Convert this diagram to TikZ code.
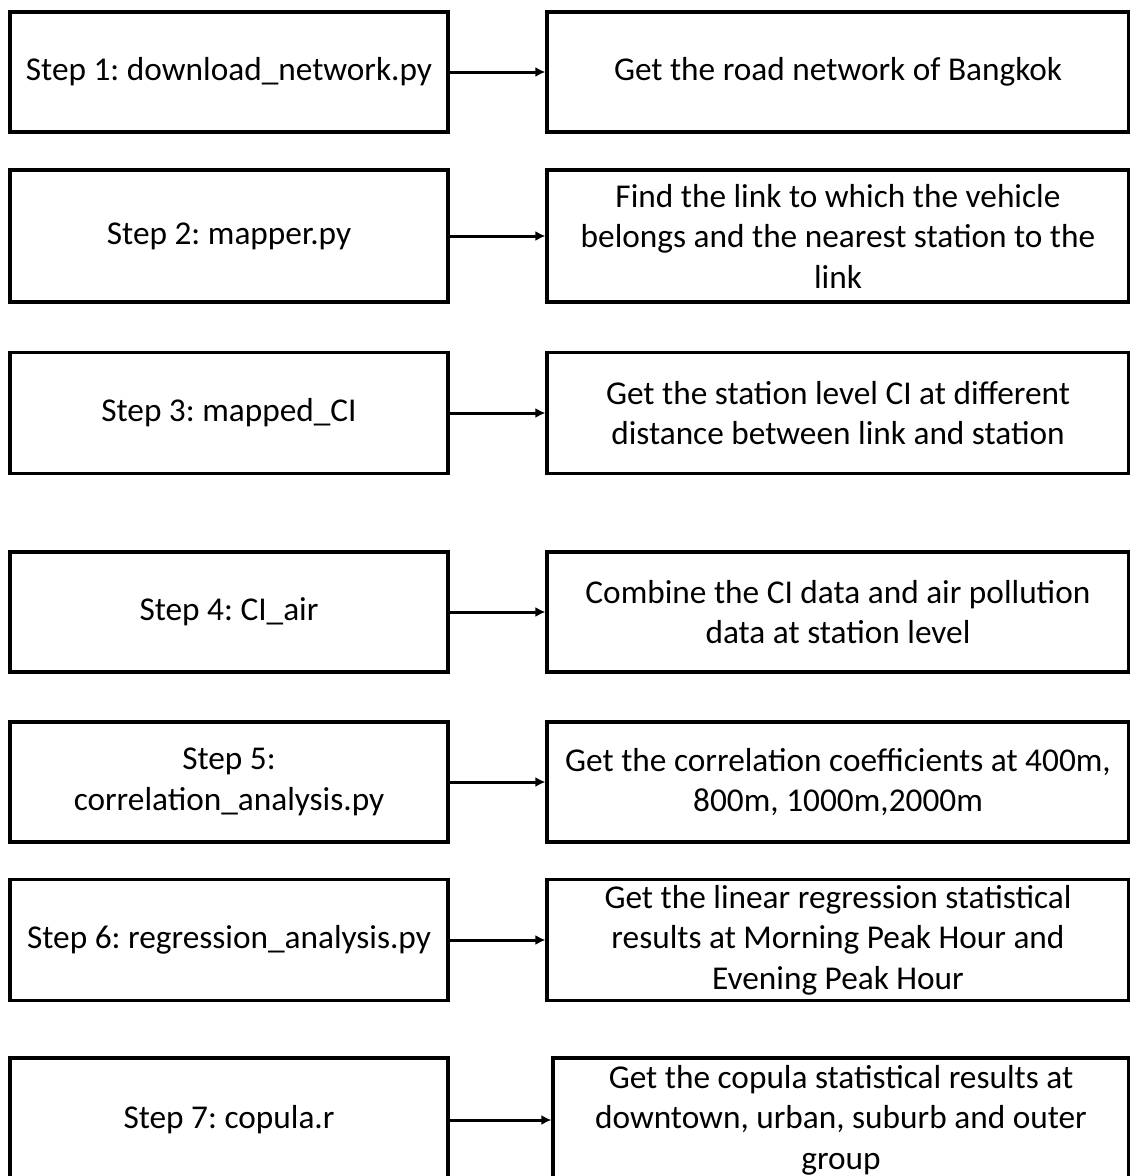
\documentclass[tikz,border=0pt]{standalone}
\usepackage{fontspec}
\setmainfont{Carlito}
\frenchspacing
\usetikzlibrary{arrows.meta}

\begin{document}
\begin{tikzpicture}
[
	x=1pt,
	y=-1pt,
	stepbox/.style={draw,line width=3.2pt,minimum width=438pt,inner sep=0pt,align=center,font=\fontsize{33.3}{40.5}\selectfont},
	outbox/.style={draw,line width=3.2pt,minimum width=582pt,inner sep=0pt,align=center,font=\fontsize{33.3}{40.5}\selectfont},
	link/.style={-{Latex[length=10pt,width=10pt]},line width=3pt}
]
	\useasboundingbox (0,0) rectangle (1130,1176);

	% scripts
	\node[stepbox,minimum height=120pt] (step1) at (229,72) {Step 1: download\_network.py};
	\node[stepbox,minimum height=132pt] (step2) at (229,236) {Step 2: mapper.py};
	\node[stepbox,minimum height=121pt] (step3) at (229,413) {Step 3: mapped\_CI};
	\node[stepbox,minimum height=120pt] (step4) at (229,612) {Step 4: CI\_air};
	\node[stepbox,minimum height=120pt] (step5) at (229,782) {Step 5:\\correlation\_analysis.py};
	\node[stepbox,minimum height=121pt] (step6) at (229,940) {Step 6: regression\_analysis.py};
	\node[stepbox,minimum height=124pt] (step7) at (229,1120) {Step 7: copula.r};

	% outputs
	\node[outbox,minimum height=120pt] (out1) at (838,72) {Get the road network of Bangkok};
	\node[outbox,minimum height=132pt] (out2) at (838,236) {Find the link to which the vehicle\\belongs and the nearest station to the\\link};
	\node[outbox,minimum height=121pt] (out3) at (838,413) {Get the station level CI at different\\distance between link and station};
	\node[outbox,minimum height=120pt] (out4) at (838,612) {Combine the CI data and air pollution\\data at station level};
	\node[outbox,minimum height=120pt] (out5) at (838,782) {Get the correlation coefficients at 400m,\\800m, 1000m,2000m};
	\node[outbox,minimum height=121pt] (out6) at (838,940) {Get the linear regression statistical\\results at Morning Peak Hour and\\Evening Peak Hour};
	\node[outbox,minimum height=124pt,minimum width=576pt] (out7) at (841,1120) {Get the copula statistical results at\\downtown, urban, suburb and outer\\group};

	% arrows
	\draw[link] (step1) -- (out1);
	\draw[link] (step2) -- (out2);
	\draw[link] (step3) -- (out3);
	\draw[link] (step4) -- (out4);
	\draw[link] (step5) -- (out5);
	\draw[link] (step6) -- (out6);
	\draw[link] (step7) -- (out7);

\end{tikzpicture}
\end{document}
